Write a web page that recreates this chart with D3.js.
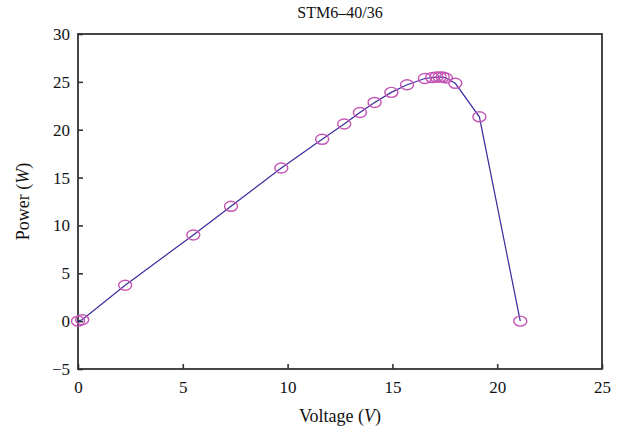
<!DOCTYPE html>
<html>
<head>
<meta charset="utf-8">
<script src="https://cdn.jsdelivr.net/npm/d3@7"></script>
<style>
  body { margin: 0; background: #fff; }
  text { font-family: "Liberation Serif", "DejaVu Serif", serif; fill: #111; }
</style>
</head>
<body>
<script>
var voltage = [0, 0.2, 2.25, 5.5, 7.3, 9.7, 11.65, 12.7, 13.45, 14.15, 14.95, 15.7, 16.55, 16.9, 17.1, 17.25, 17.4, 17.55, 18.0, 19.15, 21.1];
var power   = [0, 0.15, 3.75, 9.0, 12.0, 16.0, 19.0, 20.6, 21.8, 22.85, 23.9, 24.7, 25.35, 25.45, 25.5, 25.5, 25.5, 25.4, 24.85, 21.35, 0];
var xTicks = [0, 5, 10, 15, 20, 25];
var yTicks = [-5, 0, 5, 10, 15, 20, 25, 30];

var svg = d3.select("body")
    .append("svg")
    .attr("width", 629)
    .attr("height", 434)
    .style("display", "block");

margin = {top: 34, right: 27, bottom: 65, left: 78};
width = 629 - margin.left - margin.right;
height = 434 - margin.top - margin.bottom;
var g = svg.append("g").attr("transform", "translate(" + margin.left + "," + margin.top + ")");

var data = voltage.map(function(v, i) { return {v: v, p: power[i]}; });

var x = d3.scaleLinear().domain([0, 25]).range([0, width]);
var y = d3.scaleLinear().domain([-5, 30]).range([height, 0]);

var fmt = function(d) { return d < 0 ? "\u2212" + Math.abs(d) : "" + d; };

var xAxis = d3.axisBottom(x).tickValues(xTicks).tickSize(-5).tickPadding(9).tickFormat(fmt);
var yAxis = d3.axisLeft(y).tickValues(yTicks).tickSize(-5).tickPadding(8).tickFormat(fmt);

g.append("g")
    .attr("transform", "translate(0," + height + ")")
    .call(xAxis)
    .call(styleAxis)
    .selectAll("text")
    .attr("dy", "0.9em");

g.append("g")
    .call(yAxis)
    .call(styleAxis);

function styleAxis(sel) {
    sel.attr("font-family", null).attr("font-size", null);
    sel.select(".domain").remove();
    sel.selectAll("line").attr("stroke", "#333").attr("stroke-width", 1.6);
    sel.selectAll("text")
        .style("font-family", '"Liberation Serif", serif')
        .style("font-size", "17px")
        .attr("fill", "#111");
}

// frame
g.append("rect")
    .attr("width", width)
    .attr("height", height)
    .attr("fill", "none")
    .attr("stroke", "#333")
    .attr("stroke-width", 1.8);

var line = d3.line()
    .x(function(d) { return x(d.v); })
    .y(function(d) { return y(d.p); });

g.append("path")
    .datum(data)
    .attr("d", line)
    .attr("fill", "none")
    .attr("stroke", "#3b2a9c")
    .attr("stroke-width", 1.2);

g.selectAll("ellipse")
    .data(data)
    .enter()
    .append("ellipse")
    .attr("cx", function(d) { return x(d.v); })
    .attr("cy", function(d) { return y(d.p); })
    .attr("rx", 6.5)
    .attr("ry", 5)
    .attr("fill", "none")
    .attr("stroke", "#c455b4")
    .attr("stroke-width", 1.4);

svg.append("text")
    .attr("x", margin.left + width / 2)
    .attr("y", 18)
    .attr("text-anchor", "middle")
    .style("font-size", "16px")
    .text("STM6\u201340/36");

var xl = svg.append("text")
    .attr("x", margin.left + width / 2)
    .attr("y", 422)
    .attr("text-anchor", "middle")
    .style("font-size", "18px");
xl.append("tspan").text("Voltage (");
xl.append("tspan").style("font-style", "italic").text("V");
xl.append("tspan").text(")");

var yl = svg.append("text")
    .attr("transform", "translate(29," + (margin.top + height / 2) + ") rotate(-90)")
    .attr("text-anchor", "middle")
    .style("font-size", "18px");
yl.append("tspan").text("Power (");
yl.append("tspan").style("font-style", "italic").text("W");
yl.append("tspan").text(")");
</script>
</body>
</html>
